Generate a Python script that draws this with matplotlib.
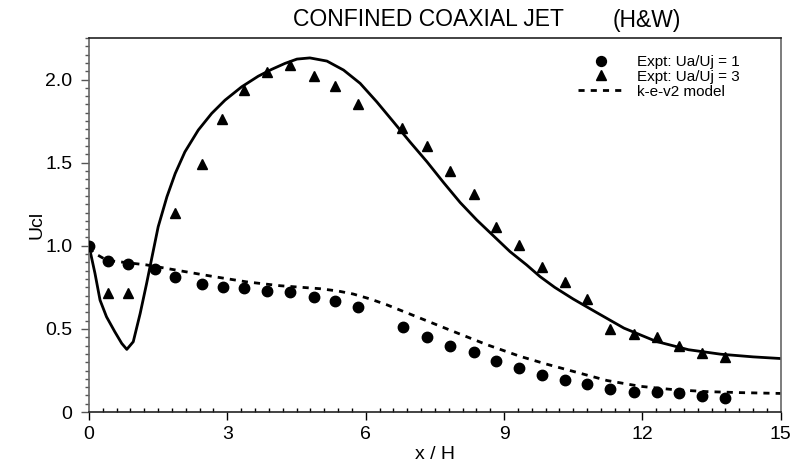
import matplotlib
matplotlib.use("Agg")
import matplotlib.pyplot as plt
from matplotlib.ticker import MultipleLocator, FixedLocator

plt.rcParams['font.family'] = ['Liberation Sans', 'DejaVu Sans']

# Experiment, Ua/Uj = 1 (circles)
x_c = [0.0, 0.41, 0.85, 1.43, 1.87, 2.45, 2.90, 3.37, 3.87, 4.36, 4.87, 5.34, 5.84,
       6.80, 7.33, 7.83, 8.34, 8.83, 9.33, 9.83, 10.32, 10.81, 11.30, 11.81, 12.31,
       12.80, 13.30, 13.80]
y_c = [1.00, 0.91, 0.89, 0.86, 0.815, 0.77, 0.75, 0.745, 0.73, 0.72, 0.69, 0.67, 0.63,
       0.51, 0.45, 0.40, 0.36, 0.31, 0.263, 0.22, 0.19, 0.17, 0.14, 0.122, 0.118,
       0.112, 0.096, 0.082]

# Experiment, Ua/Uj = 3 (triangles)
x_t = [0.41, 0.85, 1.87, 2.45, 2.89, 3.37, 3.87, 4.36, 4.87, 5.33, 5.84, 6.79, 7.33,
       7.83, 8.34, 8.83, 9.33, 9.83, 10.32, 10.81, 11.30, 11.81, 12.31, 12.80, 13.30, 13.80]
y_t = [0.715, 0.715, 1.20, 1.49, 1.765, 1.94, 2.045, 2.09, 2.02, 1.96, 1.855, 1.71, 1.60,
       1.45, 1.31, 1.115, 1.005, 0.875, 0.78, 0.68, 0.50, 0.47, 0.45, 0.40, 0.353, 0.33]

# Model, Ua/Uj = 3 (solid)
x_s = [0.0, 0.13, 0.24, 0.38, 0.56, 0.71, 0.82, 0.96, 1.11, 1.25, 1.36, 1.50, 1.69, 1.87,
       2.08, 2.37, 2.66, 2.95, 3.31, 3.67, 3.96, 4.25, 4.51, 4.79, 5.16, 5.52, 5.88,
       6.24, 6.60, 6.96, 7.33, 7.69, 8.05, 8.41, 8.77, 9.13, 9.49, 9.78, 10.1, 10.5, 11.0,
       11.6, 12.3, 13.0, 13.7, 14.4, 15.0]
y_s = [1.00, 0.834, 0.673, 0.573, 0.483, 0.413, 0.377, 0.423, 0.593, 0.774, 0.924, 1.114,
       1.295, 1.435, 1.565, 1.696, 1.796, 1.876, 1.956, 2.020, 2.061, 2.097, 2.123, 2.130,
       2.111, 2.057, 1.977, 1.866, 1.746, 1.625, 1.505, 1.380, 1.260, 1.155, 1.060, 0.965,
       0.885, 0.815, 0.750, 0.680, 0.600, 0.505, 0.425, 0.375, 0.348, 0.332, 0.322]

# Model k-e-v2, Ua/Uj = 1 (dashed)
x_d = [0.0, 0.09, 0.38, 0.53, 1.25, 1.97, 2.70, 3.42, 4.14, 5.01, 5.40, 5.73, 6.10, 6.46,
       7.18, 7.90, 8.63, 9.35, 9.90, 10.43, 11.23, 11.95, 12.67, 13.40, 14.12, 15.0]
y_d = [0.99, 0.96, 0.914, 0.908, 0.885, 0.85, 0.815, 0.783, 0.76, 0.742, 0.728, 0.71, 0.68,
       0.645, 0.565, 0.485, 0.405, 0.335, 0.29, 0.25, 0.19, 0.155, 0.135, 0.123, 0.117, 0.112]

xticks = [0, 3, 6, 9, 12, 15]
yticks = [0, 0.5, 1.0, 1.5, 2.0]
ytick_labels = ['0', '0.5', '1.0', '1.5', '2.0']

fig = plt.figure(figsize=(7.91, 4.63), dpi=100)
ax = fig.add_axes([0.1125, 0.110, 0.8745, 0.808])

ax.plot(x_s, y_s, color='black', lw=2.0, zorder=2, solid_joinstyle='round')
ax.plot(x_d, y_d, color='black', lw=2.0, ls=(0, (2.2, 2.2)), zorder=2, label='k-e-v2 model')
ax.plot(x_c, y_c, 'o', color='black', ms=7.5, ls='none', zorder=3, label='Expt: Ua/Uj = 1')
ax.plot(x_t, y_t, '^', color='black', ms=7, ls='none', zorder=3, label='Expt: Ua/Uj = 3')

ax.set_xlim(0, 15)
ax.set_ylim(0, 2.25)

ax.xaxis.set_major_locator(FixedLocator(xticks))
ax.xaxis.set_minor_locator(MultipleLocator(0.3))
ax.yaxis.set_major_locator(FixedLocator(yticks))
ax.set_yticklabels(ytick_labels)
ax.yaxis.set_minor_locator(MultipleLocator(0.05))

ax.tick_params(axis='x', which='major', direction='out', length=6, width=1, labelsize=14, pad=4)
ax.tick_params(axis='x', which='minor', direction='in', length=3, width=1)
ax.tick_params(axis='y', which='major', direction='out', length=6, width=1, labelsize=14, pad=6, color='#555555')
ax.tick_params(axis='y', which='minor', direction='out', length=3, width=1, color='#555555')

for s in ['left', 'right']:
    ax.spines[s].set_color('#666666')
    ax.spines[s].set_linewidth(1.2)
for s in ['top', 'bottom']:
    ax.spines[s].set_color('#222222')
    ax.spines[s].set_linewidth(1.2)

ax.set_xlabel('x / H', fontsize=14, labelpad=2)
ax.set_ylabel('Ucl', fontsize=14, labelpad=0)

handles, labels = ax.get_legend_handles_labels()
order = [1, 2, 0]
leg = fig.legend([handles[i] for i in order], [labels[i] for i in order],
                 loc='upper left', bbox_to_anchor=(578 / 791, 1 - 55 / 463), frameon=False,
                 fontsize=11, handlelength=3.07, handletextpad=0.78, labelspacing=0.05,
                 borderpad=0, borderaxespad=0, markerscale=0.95)

fig.text(293 / 791, 1 - 20 / 463, 'CONFINED COAXIAL JET', fontsize=16.5, ha='left', va='center')
fig.text(613 / 791, 1 - 20 / 463, '(H&W)', fontsize=16.5, ha='left', va='center')

fig.savefig('out.png', dpi=100)
